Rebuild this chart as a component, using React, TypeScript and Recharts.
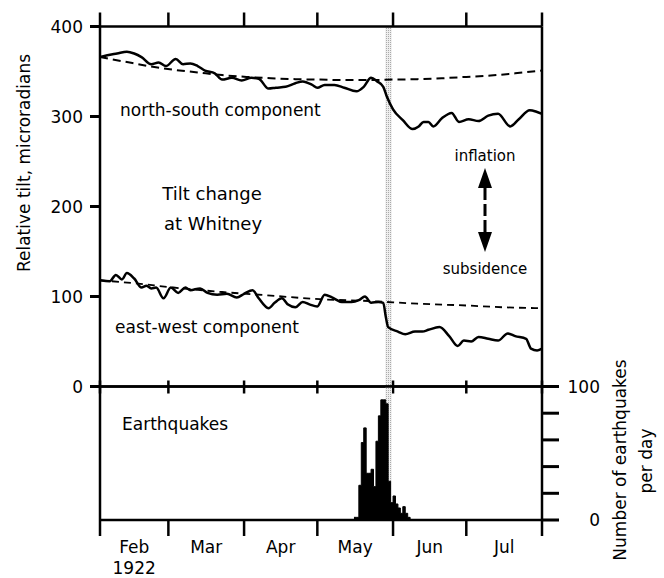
import React from "react";
import {
  ComposedChart,
  LineChart,
  Line,
  Area,
  XAxis,
  YAxis,
  ReferenceArea,
} from "recharts";

// days counted from 1 Feb 1922
const monthStarts = [0, 28, 59, 89, 120, 150, 181];
const monthMids = [14, 43.5, 74, 104.5, 135, 165.5];
const monthLabels = ["Feb", "Mar", "Apr", "May", "Jun", "Jul"];
const tiltTicks = [0, 100, 200, 300, 400];
const quakeTicks = [0, 20, 40, 60, 80, 100];

const nsDays = [0, 3, 7, 11, 14, 17, 21, 24, 27, 31, 34, 37, 40, 43, 47, 50, 54, 58, 62, 65, 69, 72, 76, 80, 83, 87, 89, 92, 96, 100, 105, 108, 111, 113.5, 116, 117.5, 120, 124, 128, 130.5, 132.5, 134.5, 136.5, 140, 144, 147, 151, 155, 159, 163, 168, 171.5, 176, 179, 181];
const nsTilt = [366, 368, 370, 372, 370, 366, 358, 360, 356, 364, 358, 359, 356, 351, 348, 341, 343, 340, 343, 342, 331, 332, 333, 337, 339, 335, 332, 335, 335, 332, 328, 333, 343, 339, 333, 322, 308, 296, 286, 289, 294, 294, 289, 298, 304, 294, 297, 295, 301, 303, 289, 297, 307, 305, 303];

const nsTrendDays = [0, 10, 20, 30, 40, 50, 60, 70, 80, 90, 100, 110, 120, 130, 140, 150, 160, 170, 181];
const nsTrend = [366, 361, 356, 352, 349, 346, 344, 342.5, 341.5, 341, 340.5, 340.5, 341, 341.5, 342.5, 344, 345.5, 348, 351];

const ewDays = [0, 4, 6.5, 9, 11, 14, 17, 19, 21, 23, 26, 29, 32, 35, 37, 41, 44, 48, 52, 56, 59, 62.5, 65, 69, 71.5, 74.5, 77, 80, 83, 86, 89, 92, 95, 99, 103, 106, 108.5, 111, 114, 116, 117, 118, 122, 125, 129, 132, 134.5, 139, 143, 146.5, 149, 152, 155, 159, 163, 167, 170, 174.5, 176.5, 179, 181];
const ewTilt = [118, 117, 124, 119, 126, 120, 110, 112, 109, 110, 98, 110, 104, 110, 107, 109, 104, 102, 103, 99, 103, 107, 98, 87, 93, 98, 91, 88, 94, 91, 89, 102, 99, 94, 94, 96, 100, 93, 94, 93, 78, 66, 61, 58, 61, 61, 63, 66, 56, 45, 51, 50, 55, 53, 51, 59, 56, 53, 42, 40, 42];

const ewTrendDays = [0, 13, 30, 50, 70, 90, 110, 130, 150, 165, 181];
const ewTrend = [118, 115, 110, 105, 101, 97, 95, 92, 90, 88, 87];

// earthquakes per day (day bin starts), last entry closes the histogram
const quakeDays = [104, 105, 106, 107, 108, 109, 110, 111, 112, 113, 114, 115, 116, 117, 118, 119, 120, 121, 122, 123, 124, 125, 126, 127];
const quakeCounts = [2, 2, 26, 58, 69, 35, 35, 38, 25, 59, 78, 90, 90, 87, 29, 13, 18, 12, 9, 5, 10, 5, 2, 0];

const toPoints = (days: number[], vals: number[]) =>
  days.map((d, i) => ({ day: d, value: vals[i] }));

const nsData = toPoints(nsDays, nsTilt);
const nsTrendData = toPoints(nsTrendDays, nsTrend);
const ewData = toPoints(ewDays, ewTilt);
const ewTrendData = toPoints(ewTrendDays, ewTrend);
const quakeData = toPoints(quakeDays, quakeCounts);

const FONT = "DejaVu Sans";
const AX = { stroke: "#000", strokeWidth: 2.5 };
const noLabel = () => "";

function MonthTick({ x, y, payload }: any) {
  const i = monthMids.indexOf(payload.value);
  return (
    <text x={x} y={y} textAnchor="middle" fontSize={17} fill="#000" fontFamily={FONT}>
      <tspan x={x} dy={13}>{monthLabels[i]}</tspan>
      {i === 0 && <tspan x={x} dy={21}>1922</tspan>}
    </text>
  );
}

function QuakeTick({ x, y, payload }: any) {
  if (payload.value !== 0 && payload.value !== 100) return null;
  return (
    <text x={x + 39} y={y} textAnchor="end" dominantBaseline="central" fontSize={17} fill="#000" fontFamily={FONT}>
      {payload.value}
    </text>
  );
}

function Stipple({ id }: { id: string }) {
  return (
    <defs>
      <pattern id={id} width="2" height="2" patternUnits="userSpaceOnUse">
        <rect width="2" height="2" fill="#eee" />
        <rect width="1" height="1" fill="#aaa" />
      </pattern>
    </defs>
  );
}

function TiltPanel() {
  return (
    <LineChart width={664} height={400} margin={{ top: 25.5, right: 121, bottom: 12.5, left: 0 }}>
      <Stipple id="stipA" />
      <XAxis dataKey="day" type="number" domain={[0, 181]} allowDataOverflow ticks={monthStarts} height={1} tickSize={7} tickFormatter={noLabel} axisLine={AX} tickLine={AX} />
      <XAxis xAxisId="top" orientation="top" dataKey="day" type="number" domain={[0, 181]} allowDataOverflow ticks={monthStarts} height={1} tickSize={14} tickFormatter={noLabel} axisLine={AX} tickLine={AX} />
      <YAxis type="number" domain={[0, 400]} allowDataOverflow ticks={tiltTicks} width={100} tickSize={10} tickMargin={7} axisLine={AX} tickLine={{ stroke: "#000", strokeWidth: 3 }} tick={{ fill: "#000", fontSize: 17, fontFamily: FONT }} />
      <YAxis yAxisId="right" orientation="right" type="number" domain={[0, 400]} allowDataOverflow width={1} tick={false} tickLine={false} axisLine={AX} />
      <ReferenceArea x1={116.8} x2={119.5} y1={0} y2={400} fill="url(#stipA)" fillOpacity={1} stroke="none" />
      <Line data={nsTrendData} dataKey="value" type="monotone" stroke="#000" strokeWidth={2} strokeDasharray="8 5" dot={false} isAnimationActive={false} />
      <Line data={ewTrendData} dataKey="value" type="monotone" stroke="#000" strokeWidth={1.8} strokeDasharray="7 5" dot={false} isAnimationActive={false} />
      <Line data={nsData} dataKey="value" type="monotone" stroke="#000" strokeWidth={2.5} dot={false} isAnimationActive={false} />
      <Line data={ewData} dataKey="value" type="monotone" stroke="#000" strokeWidth={2.5} dot={false} isAnimationActive={false} />
    </LineChart>
  );
}

function QuakePanel() {
  return (
    <ComposedChart width={664} height={578} data={quakeData} margin={{ top: 385.5, right: 121, bottom: 56, left: 0 }}>
      <Stipple id="stipB" />
      <XAxis dataKey="day" type="number" domain={[0, 181]} allowDataOverflow ticks={monthStarts} height={1} tickSize={16} tickFormatter={noLabel} axisLine={AX} tickLine={AX} />
      <XAxis xAxisId="labels" dataKey="day" type="number" domain={[0, 181]} allowDataOverflow ticks={monthMids} height={1} tickSize={0} tickMargin={19} axisLine={false} tickLine={false} tick={<MonthTick />} />
      <XAxis xAxisId="top" orientation="top" dataKey="day" type="number" domain={[0, 181]} allowDataOverflow ticks={monthStarts} height={1} tickSize={6} tickFormatter={noLabel} axisLine={AX} tickLine={AX} />
      <YAxis yAxisId="left" type="number" domain={[0, 100]} allowDataOverflow width={100} tick={false} tickLine={false} axisLine={AX} />
      <YAxis yAxisId="eq" orientation="right" type="number" domain={[0, 100]} allowDataOverflow ticks={quakeTicks} width={1} tickSize={17} tickMargin={2} axisLine={AX} tickLine={{ stroke: "#000", strokeWidth: 3 }} tick={<QuakeTick />} />
      <ReferenceArea yAxisId="eq" x1={116.8} x2={119.5} y1={0} y2={100} fill="url(#stipB)" fillOpacity={1} stroke="none" />
      <Area yAxisId="eq" dataKey="value" type="stepAfter" fill="#000" fillOpacity={1} stroke="#000" strokeWidth={1} dot={false} isAnimationActive={false} />
    </ComposedChart>
  );
}

export default function App() {
  const txt = { fill: "#000", fontFamily: FONT };
  return (
    <div style={{ position: "absolute", left: 0, top: 0, width: 664, height: 578, background: "#fff", fontFamily: FONT }}>
      <div style={{ position: "absolute", left: 0, top: 0 }}>
        <TiltPanel />
      </div>
      <div style={{ position: "absolute", left: 0, top: 0 }}>
        <QuakePanel />
      </div>
      <svg width={664} height={578} style={{ position: "absolute", left: 0, top: 0, pointerEvents: "none" }}>
        <text {...txt} x={24} y={163} fontSize={17} textAnchor="middle" dominantBaseline="central" transform="rotate(-90 24 163)">
          Relative tilt, microradians
        </text>
        <text {...txt} x={120} y={116} fontSize={17}>north-south component</text>
        <text {...txt} x={212} y={200} fontSize={18} textAnchor="middle">Tilt change</text>
        <text {...txt} x={213} y={230} fontSize={18} textAnchor="middle">at Whitney</text>
        <text {...txt} x={115} y={333} fontSize={17}>east-west component</text>
        <text {...txt} x={485} y={161} fontSize={15} textAnchor="middle">inflation</text>
        <text {...txt} x={485} y={274} fontSize={15} textAnchor="middle">subsidence</text>
        <polygon points="485,168 478,188 492,188" fill="#000" />
        <line x1={485} y1={188} x2={485} y2={232} stroke="#000" strokeWidth={3} strokeDasharray="12 4" />
        <polygon points="478,232 492,232 485,252" fill="#000" />
        <text {...txt} x={122} y={430} fontSize={17}>Earthquakes</text>
        <text {...txt} x={620} y={460} fontSize={17} textAnchor="middle" dominantBaseline="central" transform="rotate(-90 620 460)">
          Number of earthquakes
        </text>
        <text {...txt} x={646} y={461} fontSize={17} textAnchor="middle" dominantBaseline="central" transform="rotate(-90 646 461)">
          per day
        </text>
      </svg>
    </div>
  );
}
